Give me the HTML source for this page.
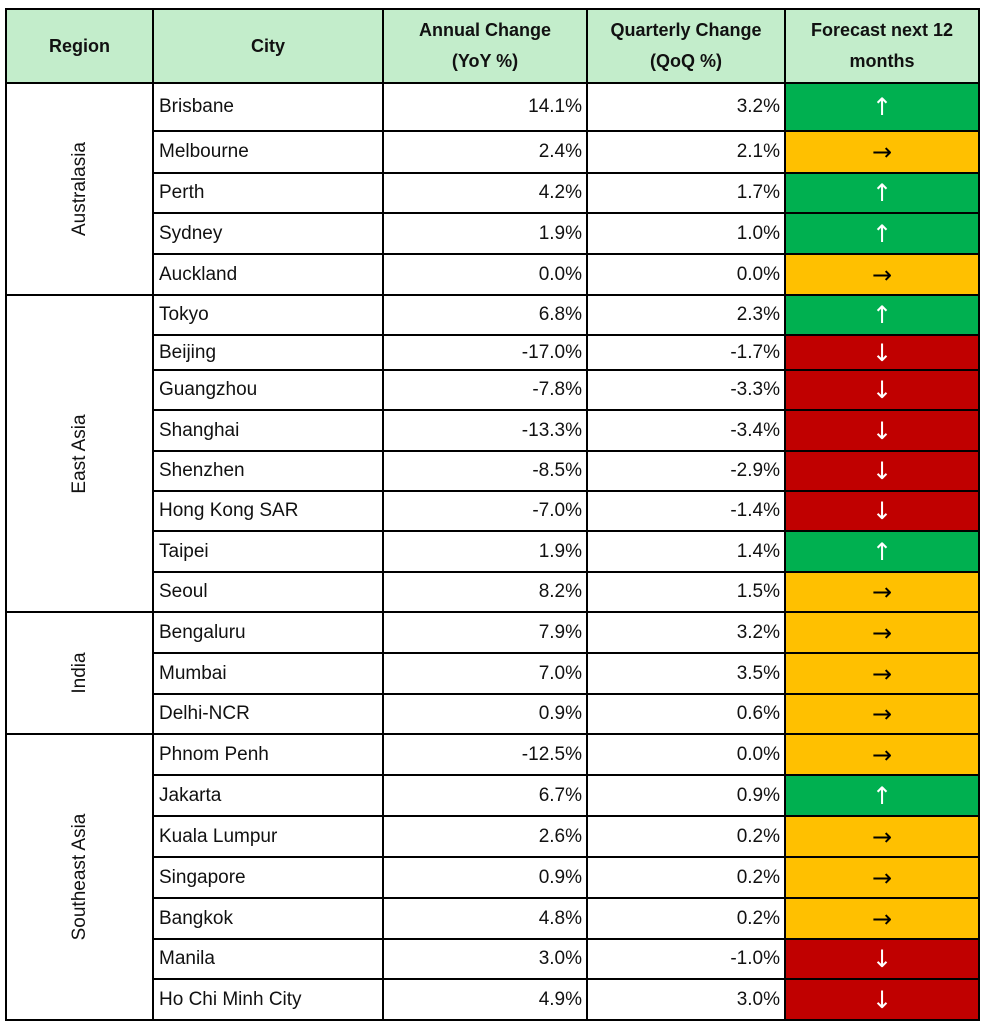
<!DOCTYPE html>
<html><head><meta charset="utf-8"><style>
body{margin:0;background:#fff;width:986px;height:1024px;overflow:hidden;font-family:"Liberation Sans",sans-serif;}
table{position:absolute;left:5px;top:8px;border-collapse:collapse;table-layout:fixed;}
td{border:2.5px solid #000;padding:0;font-size:19px;color:#111;}
th{border:2.5px solid #000;background:#c3edcb;font-size:18px;font-weight:bold;line-height:31px;color:#111;}
td.c{padding-left:5px;}
td.n{text-align:right;padding-right:4px;}
td.f{text-align:center;font-size:24px;font-family:"DejaVu Sans",sans-serif;line-height:1;}
.g{background:#00b050;color:#fff;}
.y{background:#ffc000;color:#000;}
.r{background:#c00000;color:#fff;}
td.reg{position:relative;}
.rot{position:absolute;left:50%;top:50%;transform:translate(-50%,-50%) rotate(-90deg);white-space:nowrap;font-size:19px;}
</style></head><body>
<table>
<colgroup><col style="width:147px"><col style="width:230px"><col style="width:204px"><col style="width:198px"><col style="width:194px"></colgroup>
<tr style="height:74px"><th>Region</th><th>City</th><th>Annual Change<br>(YoY %)</th><th>Quarterly Change<br>(QoQ %)</th><th>Forecast next 12<br>months</th></tr>
<tr style="height:48px"><td class="reg" rowspan="5"><div class="rot">Australasia</div></td><td class="c">Brisbane</td><td class="n">14.1%</td><td class="n">3.2%</td><td class="f g">↑</td></tr>
<tr style="height:42px"><td class="c">Melbourne</td><td class="n">2.4%</td><td class="n">2.1%</td><td class="f y">→</td></tr>
<tr style="height:40px"><td class="c">Perth</td><td class="n">4.2%</td><td class="n">1.7%</td><td class="f g">↑</td></tr>
<tr style="height:41px"><td class="c">Sydney</td><td class="n">1.9%</td><td class="n">1.0%</td><td class="f g">↑</td></tr>
<tr style="height:41px"><td class="c">Auckland</td><td class="n">0.0%</td><td class="n">0.0%</td><td class="f y">→</td></tr>
<tr style="height:40px"><td class="reg" rowspan="8"><div class="rot">East Asia</div></td><td class="c">Tokyo</td><td class="n">6.8%</td><td class="n">2.3%</td><td class="f g">↑</td></tr>
<tr style="height:35px"><td class="c">Beijing</td><td class="n">-17.0%</td><td class="n">-1.7%</td><td class="f r">↓</td></tr>
<tr style="height:40px"><td class="c">Guangzhou</td><td class="n">-7.8%</td><td class="n">-3.3%</td><td class="f r">↓</td></tr>
<tr style="height:41px"><td class="c">Shanghai</td><td class="n">-13.3%</td><td class="n">-3.4%</td><td class="f r">↓</td></tr>
<tr style="height:40px"><td class="c">Shenzhen</td><td class="n">-8.5%</td><td class="n">-2.9%</td><td class="f r">↓</td></tr>
<tr style="height:40px"><td class="c">Hong Kong SAR</td><td class="n">-7.0%</td><td class="n">-1.4%</td><td class="f r">↓</td></tr>
<tr style="height:41px"><td class="c">Taipei</td><td class="n">1.9%</td><td class="n">1.4%</td><td class="f g">↑</td></tr>
<tr style="height:40px"><td class="c">Seoul</td><td class="n">8.2%</td><td class="n">1.5%</td><td class="f y">→</td></tr>
<tr style="height:41px"><td class="reg" rowspan="3"><div class="rot">India</div></td><td class="c">Bengaluru</td><td class="n">7.9%</td><td class="n">3.2%</td><td class="f y">→</td></tr>
<tr style="height:41px"><td class="c">Mumbai</td><td class="n">7.0%</td><td class="n">3.5%</td><td class="f y">→</td></tr>
<tr style="height:40px"><td class="c">Delhi-NCR</td><td class="n">0.9%</td><td class="n">0.6%</td><td class="f y">→</td></tr>
<tr style="height:41px"><td class="reg" rowspan="7"><div class="rot">Southeast Asia</div></td><td class="c">Phnom Penh</td><td class="n">-12.5%</td><td class="n">0.0%</td><td class="f y">→</td></tr>
<tr style="height:41px"><td class="c">Jakarta</td><td class="n">6.7%</td><td class="n">0.9%</td><td class="f g">↑</td></tr>
<tr style="height:41px"><td class="c">Kuala Lumpur</td><td class="n">2.6%</td><td class="n">0.2%</td><td class="f y">→</td></tr>
<tr style="height:41px"><td class="c">Singapore</td><td class="n">0.9%</td><td class="n">0.2%</td><td class="f y">→</td></tr>
<tr style="height:41px"><td class="c">Bangkok</td><td class="n">4.8%</td><td class="n">0.2%</td><td class="f y">→</td></tr>
<tr style="height:40px"><td class="c">Manila</td><td class="n">3.0%</td><td class="n">-1.0%</td><td class="f r">↓</td></tr>
<tr style="height:41px"><td class="c">Ho Chi Minh City</td><td class="n">4.9%</td><td class="n">3.0%</td><td class="f r">↓</td></tr>
</table>
</body></html>
